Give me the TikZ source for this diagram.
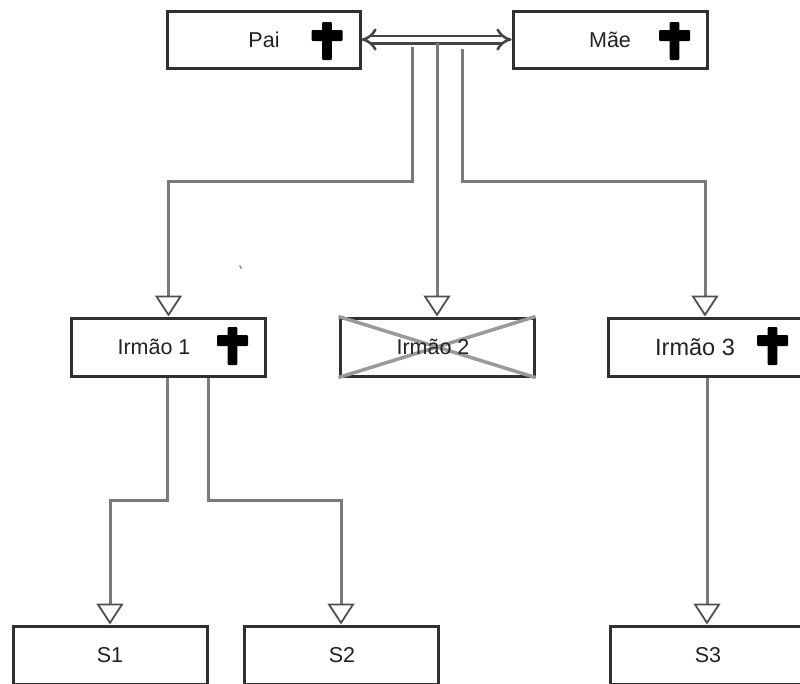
\documentclass[tikz,border=0pt]{standalone}
\usepackage{fontspec}
\setmainfont{Liberation Sans}
\usetikzlibrary{arrows.meta,calc}
\definecolor{boxline}{HTML}{303030}
\definecolor{connline}{HTML}{7A7A7A}
\definecolor{xline}{HTML}{9A9A9A}
\definecolor{txt}{HTML}{222222}
\tikzset{
  famnode/.style={draw=boxline, line width=3pt, fill=white, minimum width=194pt, minimum height=58pt, inner sep=0pt},
  lbl/.style={text=txt, font=\fontsize{21.5pt}{24pt}\selectfont, inner sep=0pt},
  conn/.style={draw=connline, line width=3pt, -{Triangle[open, width=27pt, length=21pt, line width=1.8pt, fill=white, color=boxline!85]}},
  dbl/.style={draw=boxline!90, line width=2.6pt, double=white, double distance=4.8pt, {Implies[scale=1.45]}-{Implies[scale=1.45]}},
  crossx/.style={draw=xline, line width=3.5pt},
}
\newcommand{\blackcross}[2]{%
  \fill[black, rounded corners=1pt] (#1-4.8,#2) rectangle (#1+4.8,#2+38);
  \fill[black, rounded corners=1pt] (#1-15.5,#2+8) rectangle (#1+15.5,#2+19);
}
\begin{document}
\begin{tikzpicture}[x=1pt,y=-1pt]
\useasboundingbox (0,0) rectangle (800,683);

% boxes
\node[famnode, minimum width=193pt, minimum height=57pt] (pai) at (263.5,39.5) {};
\node[famnode, minimum width=194pt, minimum height=57pt] (mae) at (610,39.5) {};
\node[famnode] (ir1) at (168.5,347) {};
\node[famnode] (ir2) at (437,347) {};
\node[famnode] (ir3) at (705,347) {};
\node[famnode] (s1) at (110,655) {};
\node[famnode] (s2) at (341,655) {};
\node[famnode] (s3) at (707,655) {};

% labels
\node[lbl] (tpai) at (264,40) {Pai};
\node[lbl] (tmae) at (610,40) {Mãe};
\node[lbl] (tir1) at (154,347) {Irmão 1};
\node[lbl, font=\fontsize{23.5pt}{26pt}\selectfont] (tir3) at (695,347) {Irmão 3};
\node[lbl] (ts1) at (110,655) {S1};
\node[lbl] (ts2) at (342,655) {S2};
\node[lbl] (ts3) at (708,655) {S3};

% crosses
\blackcross{327}{22}
\blackcross{674.5}{22}
\blackcross{232.5}{327}
\blackcross{772.5}{327}

% struck-out box
\draw[crossx] (ir2.north west) -- (ir2.south east);
\draw[crossx] (ir2.south west) -- (ir2.north east);
\node[lbl] (tir2) at (433,347) {Irmão 2};

% marriage link
\draw[dbl] (pai.east) -- (mae.west);

% junctions
\coordinate (j1) at (412,47);
\coordinate (j2) at (437,43);
\coordinate (j3) at (462,49);
\coordinate (b1) at (0,181);
\coordinate (b2) at (0,500);

\draw[conn] (j1) -- (j1 |- b1) -| (ir1.north);
\draw[conn] (j2) -- (ir2.north);
\draw[conn] (j3) -- (j3 |- b1) -| (ir3.north);

\coordinate (k1) at ([xshift=-1.5pt]ir1.south);
\coordinate (k2) at ([xshift=39.5pt]ir1.south);
\draw[conn] (k1) -- (k1 |- b2) -| (s1.north);
\draw[conn] (k2) -- (k2 |- b2) -| (s2.north);
\draw[conn] (ir3.south) ++(2,0) coordinate (k3) -- (s3.north);

% small stray mark
\draw[connline, line width=1.2pt] (239.5,265.5) -- (241.5,268.5);
\end{tikzpicture}
\end{document}
